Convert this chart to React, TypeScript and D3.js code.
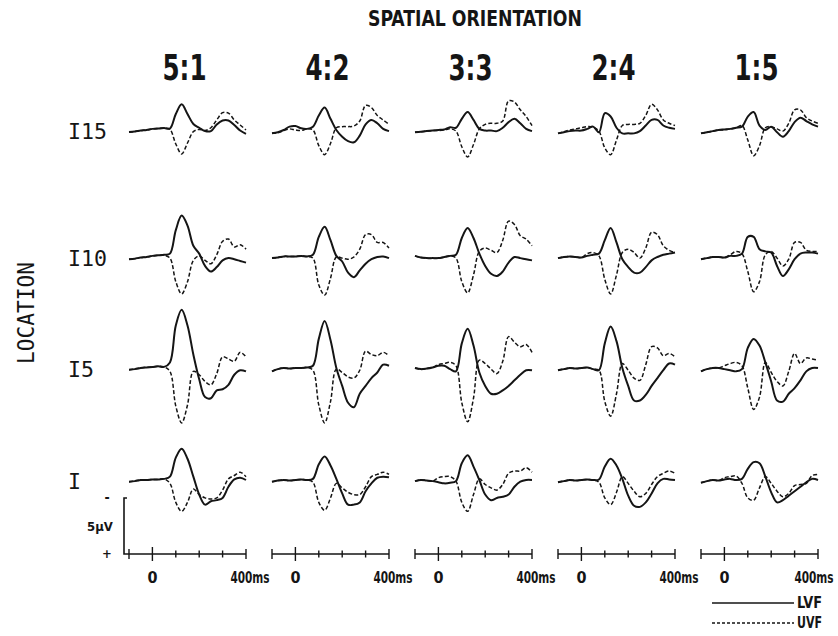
import * as d3 from 'd3';

// sample grid (ms) shared by every trace
const TIMES_MS = [-100, -75, -50, -25, 0, 25, 50, 75, 100, 125, 150, 175, 200, 225, 250, 275, 300, 325, 350, 375, 400];
const ORIENTATIONS = ['5:1', '4:2', '3:3', '2:4', '1:5'];
const LOCATIONS = ['I15', 'I10', 'I5', 'I'];
const AXIS_TICKS_MS = [-100, 0, 100, 200, 300, 400];

// amplitudes in µV, negative plotted upward; one array per orientation column
const LVF_I15 = [
  [0.18, 0.13, 0.05, 0, -0.1, -0.13, -0.18, -0.13, -1.43, -2.3, -1.43, -0.54, -0.2, 0.1, 0.1, -0.5, -0.85, -0.85, -0.45, 0.05, 0.35],
  [0.3, 0.2, 0, -0.3, -0.35, -0.15, -0.1, -0.3, -1.3, -2.0, -1.0, 0.0, 0.6, 1.0, 1.1, 0.5, -0.5, -0.9, -0.6, -0.1, 0.1],
  [0.2, 0.15, 0.1, 0.05, 0, -0.05, -0.25, -0.2, -1.0, -1.6, -0.9, -0.1, 0.05, 0.05, 0.1, -0.2, -0.7, -1.0, -0.6, -0.1, 0.1],
  [0.3, 0.2, 0.1, 0.05, 0.05, -0.1, -0.3, 0.2, -1.5, -1.2, -0.2, 0.3, 0.3, 0.3, 0.1, -0.4, -0.9, -0.9, -0.4, -0.2, -0.1],
  [0.3, 0.2, 0.1, 0, -0.05, -0.1, -0.2, -0.3, -1.2, -1.6, -0.4, 0, -0.3, 0.2, 0.6, 0.1, -0.7, -1.1, -0.8, -0.5, -0.3],
];
const UVF_I15 = [
  [0.18, 0.13, 0.05, 0, -0.1, -0.13, -0.15, -0.05, 1.25, 2.14, 1.16, 0.15, -0.05, 0.05, -0.2, -0.9, -1.55, -1.5, -0.9, -0.45, 0],
  [0.3, 0.25, 0.05, -0.1, 0, 0.05, -0.1, 0, 1.4, 2.2, 1.2, -0.2, -0.3, -0.3, -0.35, -0.8, -2.2, -2.0, -1.3, -0.9, -0.5],
  [0.2, 0.15, 0.1, 0.05, 0.05, 0, -0.1, 0.1, 1.5, 2.4, 1.3, -0.1, -0.5, -0.6, -0.6, -0.8, -2.6, -2.5, -1.8, -1.2, -0.4],
  [0.3, 0.15, 0, -0.1, -0.2, -0.3, -0.25, 0.1, 1.6, 2.2, 0.9, -0.4, -0.5, -0.5, -0.6, -1.3, -2.3, -1.8, -0.9, -0.6, -0.4],
  [0.3, 0.2, 0.1, 0, 0, -0.1, -0.2, -0.4, 0.9, 2.3, 1.4, -0.2, -0.3, -0.1, 0.1, -0.6, -1.8, -1.8, -1.1, -0.8, -0.6],
];

const LVF_I10 = [
  [0.2, 0.15, 0.05, 0, -0.1, -0.15, -0.2, -0.3, -2.4, -3.7, -2.8, -1.0, -0.3, 0.8, 1.3, 0.9, 0.3, 0.1, 0.2, 0.35, 0.5],
  [0.1, 0.05, -0.05, -0.05, -0.05, -0.1, -0.05, -0.2, -1.8, -2.7, -1.5, -0.1, 0.4, 1.4, 1.8, 1.2, 0.6, 0.2, 0, -0.05, 0.1],
  [-0.1, 0.05, 0.1, 0.1, 0.1, 0, -0.1, -0.2, -1.7, -2.6, -1.7, -0.3, 0.8, 1.5, 1.7, 1.3, 0.5, 0, 0.1, 0.2, 0.3],
  [0.1, 0, -0.05, 0, 0.05, -0.1, -0.2, -0.3, -1.5, -2.6, -1.3, 0.2, 0.9, 1.4, 1.4, 0.9, 0.3, 0, -0.2, -0.3, -0.4],
  [0.2, 0.1, 0, 0, 0.05, -0.1, -0.1, -0.3, -1.8, -1.8, -0.7, -0.5, -0.4, 0.8, 1.7, 1.1, 0.2, -0.3, -0.4, -0.4, -0.3],
];
const UVF_I10 = [
  [0.2, 0.15, 0.05, 0, -0.1, -0.15, -0.15, 0.1, 2.2, 3.3, 2.2, 0.3, -0.1, 0.3, 0.6, -0.2, -1.4, -1.6, -0.9, -1.1, -0.7],
  [0.1, 0.05, -0.05, -0.05, -0.05, -0.1, -0.05, 0.1, 2.5, 3.4, 1.9, 0, 0.1, 0.2, 0, -0.7, -2.0, -2.0, -1.3, -1.3, -0.8],
  [-0.1, 0.05, 0.1, 0.1, 0.1, 0, -0.1, 0.1, 2.2, 3.2, 1.6, -0.5, -0.8, -0.6, -0.4, -1.5, -3.2, -2.9, -1.9, -1.6, -1.0],
  [0.1, 0, -0.05, 0, 0.05, -0.3, -0.4, -0.1, 2.0, 3.3, 1.6, -0.4, -0.7, -0.4, 0.1, -0.8, -2.2, -2.0, -1.0, -0.6, -0.4],
  [0.2, 0.1, 0, 0, 0.05, -0.2, -0.5, -0.3, 1.3, 3.1, 2.2, -0.2, -0.5, 0.1, 0.8, 0.2, -1.3, -1.3, -0.6, -0.5, -0.5],
];

const LVF_I5 = [
  [0.15, 0.1, 0, -0.05, -0.1, -0.15, -0.1, -0.5, -3.8, -5.2, -3.8, -1.2, 1.0, 2.6, 2.7, 2.0, 1.9, 1.5, 0.6, 0.2, 0.3],
  [0.3, 0.1, 0, 0.05, 0, 0, -0.05, -0.2, -2.6, -4.2, -2.5, 0, 1.6, 3.1, 3.5, 2.3, 1.6, 0.9, 0.4, -0.3, -0.2],
  [0, 0.1, 0.05, -0.05, -0.2, -0.2, 0.1, 0.3, -2.2, -3.5, -2.0, 0.4, 1.6, 2.3, 2.3, 2.0, 1.6, 1.1, 0.6, 0.2, 0.2],
  [0.2, 0.1, 0, 0.05, 0, -0.05, 0.1, 0.2, -2.2, -3.7, -2.4, 0, 1.6, 2.9, 2.9, 2.4, 1.6, 0.9, 0.2, -0.4, -0.3],
  [0.3, 0.1, 0, 0, 0.1, 0.2, 0.3, 0.1, -1.8, -2.6, -2.0, -0.5, 1.2, 2.9, 3.0, 2.3, 1.8, 1.1, 0.3, 0, 0],
];
const UVF_I5 = [
  [0.15, 0.1, 0, -0.05, -0.1, -0.15, -0.1, 0.3, 3.4, 4.9, 3.3, 0.3, 0.6, 1.2, 1.5, 0.5, -1.0, -0.8, -0.6, -1.4, -1.0],
  [0.3, 0.1, 0, 0.05, 0, 0, -0.05, 0.2, 3.3, 4.9, 3.0, 0.1, 0.4, 0.8, 0.9, 0.2, -1.5, -1.2, -1.1, -1.4, -1.1],
  [0, 0.1, 0.05, -0.05, -0.3, -0.4, -0.5, -0.2, 3.1, 4.8, 2.7, -0.7, -0.4, 0.1, 0.5, -0.6, -2.8, -2.3, -1.9, -2.1, -1.4],
  [0.2, 0.1, 0, 0.05, 0, -0.05, 0.1, 0.2, 3.0, 4.3, 2.3, -0.4, 0.2, 0.9, 1.1, -0.3, -1.9, -1.8, -1.1, -1.3, -1.0],
  [0.3, 0.1, 0, 0, -0.2, -0.4, -0.5, -0.2, 1.8, 3.7, 2.6, -0.5, 0.4, 1.2, 1.6, 0.3, -1.3, -0.4, -0.9, -0.8, -0.7],
];

const LVF_I = [
  [0.15, 0.1, 0, 0, -0.05, -0.05, -0.1, -0.3, -2.0, -2.8, -1.9, -0.3, 1.3, 2.2, 1.9, 1.8, 1.6, 0.6, -0.05, -0.2, 0],
  [0.15, 0.05, 0, 0.05, 0, -0.05, 0, -0.1, -1.4, -2.1, -1.3, -0.1, 1.2, 2.2, 2.2, 2.0, 1.0, 0.3, -0.2, -0.3, -0.25],
  [0.1, 0, 0.05, 0.1, 0.2, 0.3, 0.25, 0.1, -1.5, -2.2, -1.2, 0, 1.3, 1.8, 1.6, 1.5, 1.3, 0.6, 0.15, 0, 0],
  [0.2, 0.1, 0, 0.05, 0, -0.05, 0, -0.05, -1.2, -1.9, -1.3, -0.1, 1.4, 2.3, 2.4, 2.0, 1.2, 0.3, -0.1, -0.05, 0],
  [0.25, 0.1, 0, 0.05, -0.05, -0.1, 0, -0.1, -1.0, -1.6, -1.5, -0.3, 1.1, 2.0, 1.8, 1.4, 1.0, 0.6, 0.2, -0.1, 0],
];
const UVF_I = [
  [0.15, 0.1, 0, 0, -0.05, -0.05, -0.1, 0.3, 2.0, 2.8, 2.0, 0.8, 1.3, 1.6, 1.7, 1.6, 0.9, -0.1, -0.4, -0.7, -0.3],
  [0.15, 0.05, 0, 0.05, 0, -0.05, 0, 0.2, 2.0, 2.7, 1.6, 0.3, 0.7, 1.1, 1.3, 1.3, 0.6, -0.3, -0.5, -0.7, -0.5],
  [0.1, 0, 0.05, 0.1, -0.2, -0.3, -0.3, 0.1, 2.0, 2.8, 1.3, -0.1, 0.4, 0.7, 0.9, 0.4, -0.6, -0.8, -0.8, -1.1, -0.7],
  [0.2, 0.1, 0, 0.05, 0, -0.05, 0, 0.2, 1.6, 2.2, 1.1, -0.3, 0.3, 1.0, 1.5, 1.2, 0.4, -0.3, -0.6, -0.8, -0.6],
  [0.25, 0.1, 0, 0.05, -0.2, -0.3, -0.35, 0.3, 1.6, 1.8, 0.7, -0.3, 0.3, 1.0, 1.5, 1.2, 0.5, 0.4, 0.3, -0.4, -0.5],
];

const LVF_ROWS = [LVF_I15, LVF_I10, LVF_I5, LVF_I];
const UVF_ROWS = [UVF_I15, UVF_I10, UVF_I5, UVF_I];

// layout
const W = 838;
const H = 636;
const COL_X0 = 129;
const COL_STEP = 143;
const PANEL_W = 117;
const ROW_BASE = [130, 257, 368, 480];
const PX_PER_UV = 11.2;
const AXIS_Y = 554;
const INK = '#151515';
const COND = "'DejaVu Sans Condensed', 'Liberation Sans Narrow', 'DejaVu Sans', sans-serif";
const MONO = "'DejaVu Sans Mono', monospace";

function xScaleFor(col: number) {
  return d3.scaleLinear().domain([-100, 400]).range([COL_X0 + col * COL_STEP, COL_X0 + col * COL_STEP + PANEL_W]);
}

function yScaleFor(row: number) {
  const base = ROW_BASE[row];
  return d3.scaleLinear().domain([-5, 5]).range([base - 5 * PX_PER_UV, base + 5 * PX_PER_UV]);
}

function Trace({ values, x, y, dashed }: { values: number[]; x: d3.ScaleLinear<number, number>; y: d3.ScaleLinear<number, number>; dashed?: boolean }) {
  const line = d3.line<number>()
    .x((_, i) => x(TIMES_MS[i]))
    .y(d => y(d))
    .curve(d3.curveCatmullRom.alpha(0.5));
  return (
    <path
      d={line(values) ?? ''}
      fill="none"
      stroke={INK}
      strokeWidth={dashed ? 1.5 : 2}
      strokeDasharray={dashed ? '4 2.2' : undefined}
      strokeLinejoin="round"
    />
  );
}

function TimeAxis({ col }: { col: number }) {
  const x = xScaleFor(col);
  // keep the last "400ms" inside the page edge
  const labelX = Math.min(x(400) + 4, W - 24);
  return (
    <g>
      <line x1={x(-100)} x2={x(400)} y1={AXIS_Y} y2={AXIS_Y} stroke={INK} strokeWidth={1.6} />
      {AXIS_TICKS_MS.map(t => {
        const half = t === 0 ? 7 : (t === -100 || t === 400) ? 5 : 3.5;
        return <line key={t} x1={x(t)} x2={x(t)} y1={AXIS_Y - half} y2={AXIS_Y + half} stroke={INK} strokeWidth={1.4} />;
      })}
      <text x={x(0)} y={AXIS_Y + 29} textAnchor="middle" fontFamily={COND} fontWeight="bold" fontSize={16} fill={INK}>0</text>
      <text transform={`translate(${labelX},${AXIS_Y + 29}) scale(0.78,1)`} textAnchor="middle" fontFamily={COND}
        fontWeight="bold" fontSize={15} fill={INK}>400ms</text>
    </g>
  );
}

export default function App() {
  const barScale = d3.scaleLinear().domain([0, 5]).range([AXIS_Y - 5 * PX_PER_UV, AXIS_Y]);
  const barX = 124;

  return (
    <svg width={W} height={H} viewBox={`0 0 ${W} ${H}`}
      style={{ position: 'absolute', left: 0, top: 0, background: '#fff' }}>
      <rect width={W} height={H} fill="#fff" />

      <text x={475} y={26} textAnchor="middle" fontFamily={COND} fontWeight="bold" fontSize={21}
        textLength={214} lengthAdjust="spacingAndGlyphs" fill={INK}>SPATIAL ORIENTATION</text>

      {ORIENTATIONS.map((o, c) => {
        const x = xScaleFor(c);
        return (
          <text key={o} x={(x(-100) + x(400)) / 2 - 3} y={80} textAnchor="middle" fontFamily={COND} fontWeight="bold"
            fontSize={35} textLength={44} lengthAdjust="spacingAndGlyphs" fill={INK}>{o}</text>
        );
      })}

      <text transform="translate(34,313) rotate(-90)" textAnchor="middle" fontFamily={MONO} fontSize={23}
        textLength={102} lengthAdjust="spacingAndGlyphs" fill={INK}>LOCATION</text>

      {LOCATIONS.map((loc, r) => (
        <text key={loc} x={68} y={ROW_BASE[r] + 9} fontFamily={MONO} fontSize={22}
          textLength={loc.length * 13} lengthAdjust="spacingAndGlyphs" fill={INK}>{loc}</text>
      ))}

      {LOCATIONS.map((loc, r) => (
        <g key={loc}>
          {ORIENTATIONS.map((o, c) => {
            const x = xScaleFor(c);
            const y = yScaleFor(r);
            return (
              <g key={o}>
                <Trace values={UVF_ROWS[r][c]} x={x} y={y} dashed />
                <Trace values={LVF_ROWS[r][c]} x={x} y={y} />
              </g>
            );
          })}
        </g>
      ))}

      {/* 5 µV calibration bar, negative up */}
      <path d={`M${barX + 3},${barScale(0)} H${barX} V${barScale(5)} H${COL_X0}`} fill="none" stroke={INK} strokeWidth={1.6} />
      <text x={107} y={barScale(0) + 4} textAnchor="middle" fontFamily={COND} fontWeight="bold" fontSize={14} fill={INK}>-</text>
      <text x={100} y={(barScale(0) + barScale(5)) / 2 + 5} textAnchor="middle" fontFamily={COND} fontWeight="bold" fontSize={13} fill={INK}>5µV</text>
      <text x={107} y={barScale(5) + 4} textAnchor="middle" fontFamily={COND} fontWeight="bold" fontSize={13} fill={INK}>+</text>

      {ORIENTATIONS.map((o, c) => <TimeAxis key={o} col={c} />)}

      {/* legend */}
      <line x1={712} x2={794} y1={603} y2={603} stroke={INK} strokeWidth={1.6} />
      <text x={797} y={608} fontFamily={COND} fontWeight="bold" fontSize={15} textLength={25} lengthAdjust="spacingAndGlyphs" fill={INK}>LVF</text>
      <line x1={712} x2={794} y1={623} y2={623} stroke={INK} strokeWidth={1.4} strokeDasharray="3 2" />
      <text x={797} y={628} fontFamily={COND} fontWeight="bold" fontSize={15} textLength={25} lengthAdjust="spacingAndGlyphs" fill={INK}>UVF</text>
    </svg>
  );
}
